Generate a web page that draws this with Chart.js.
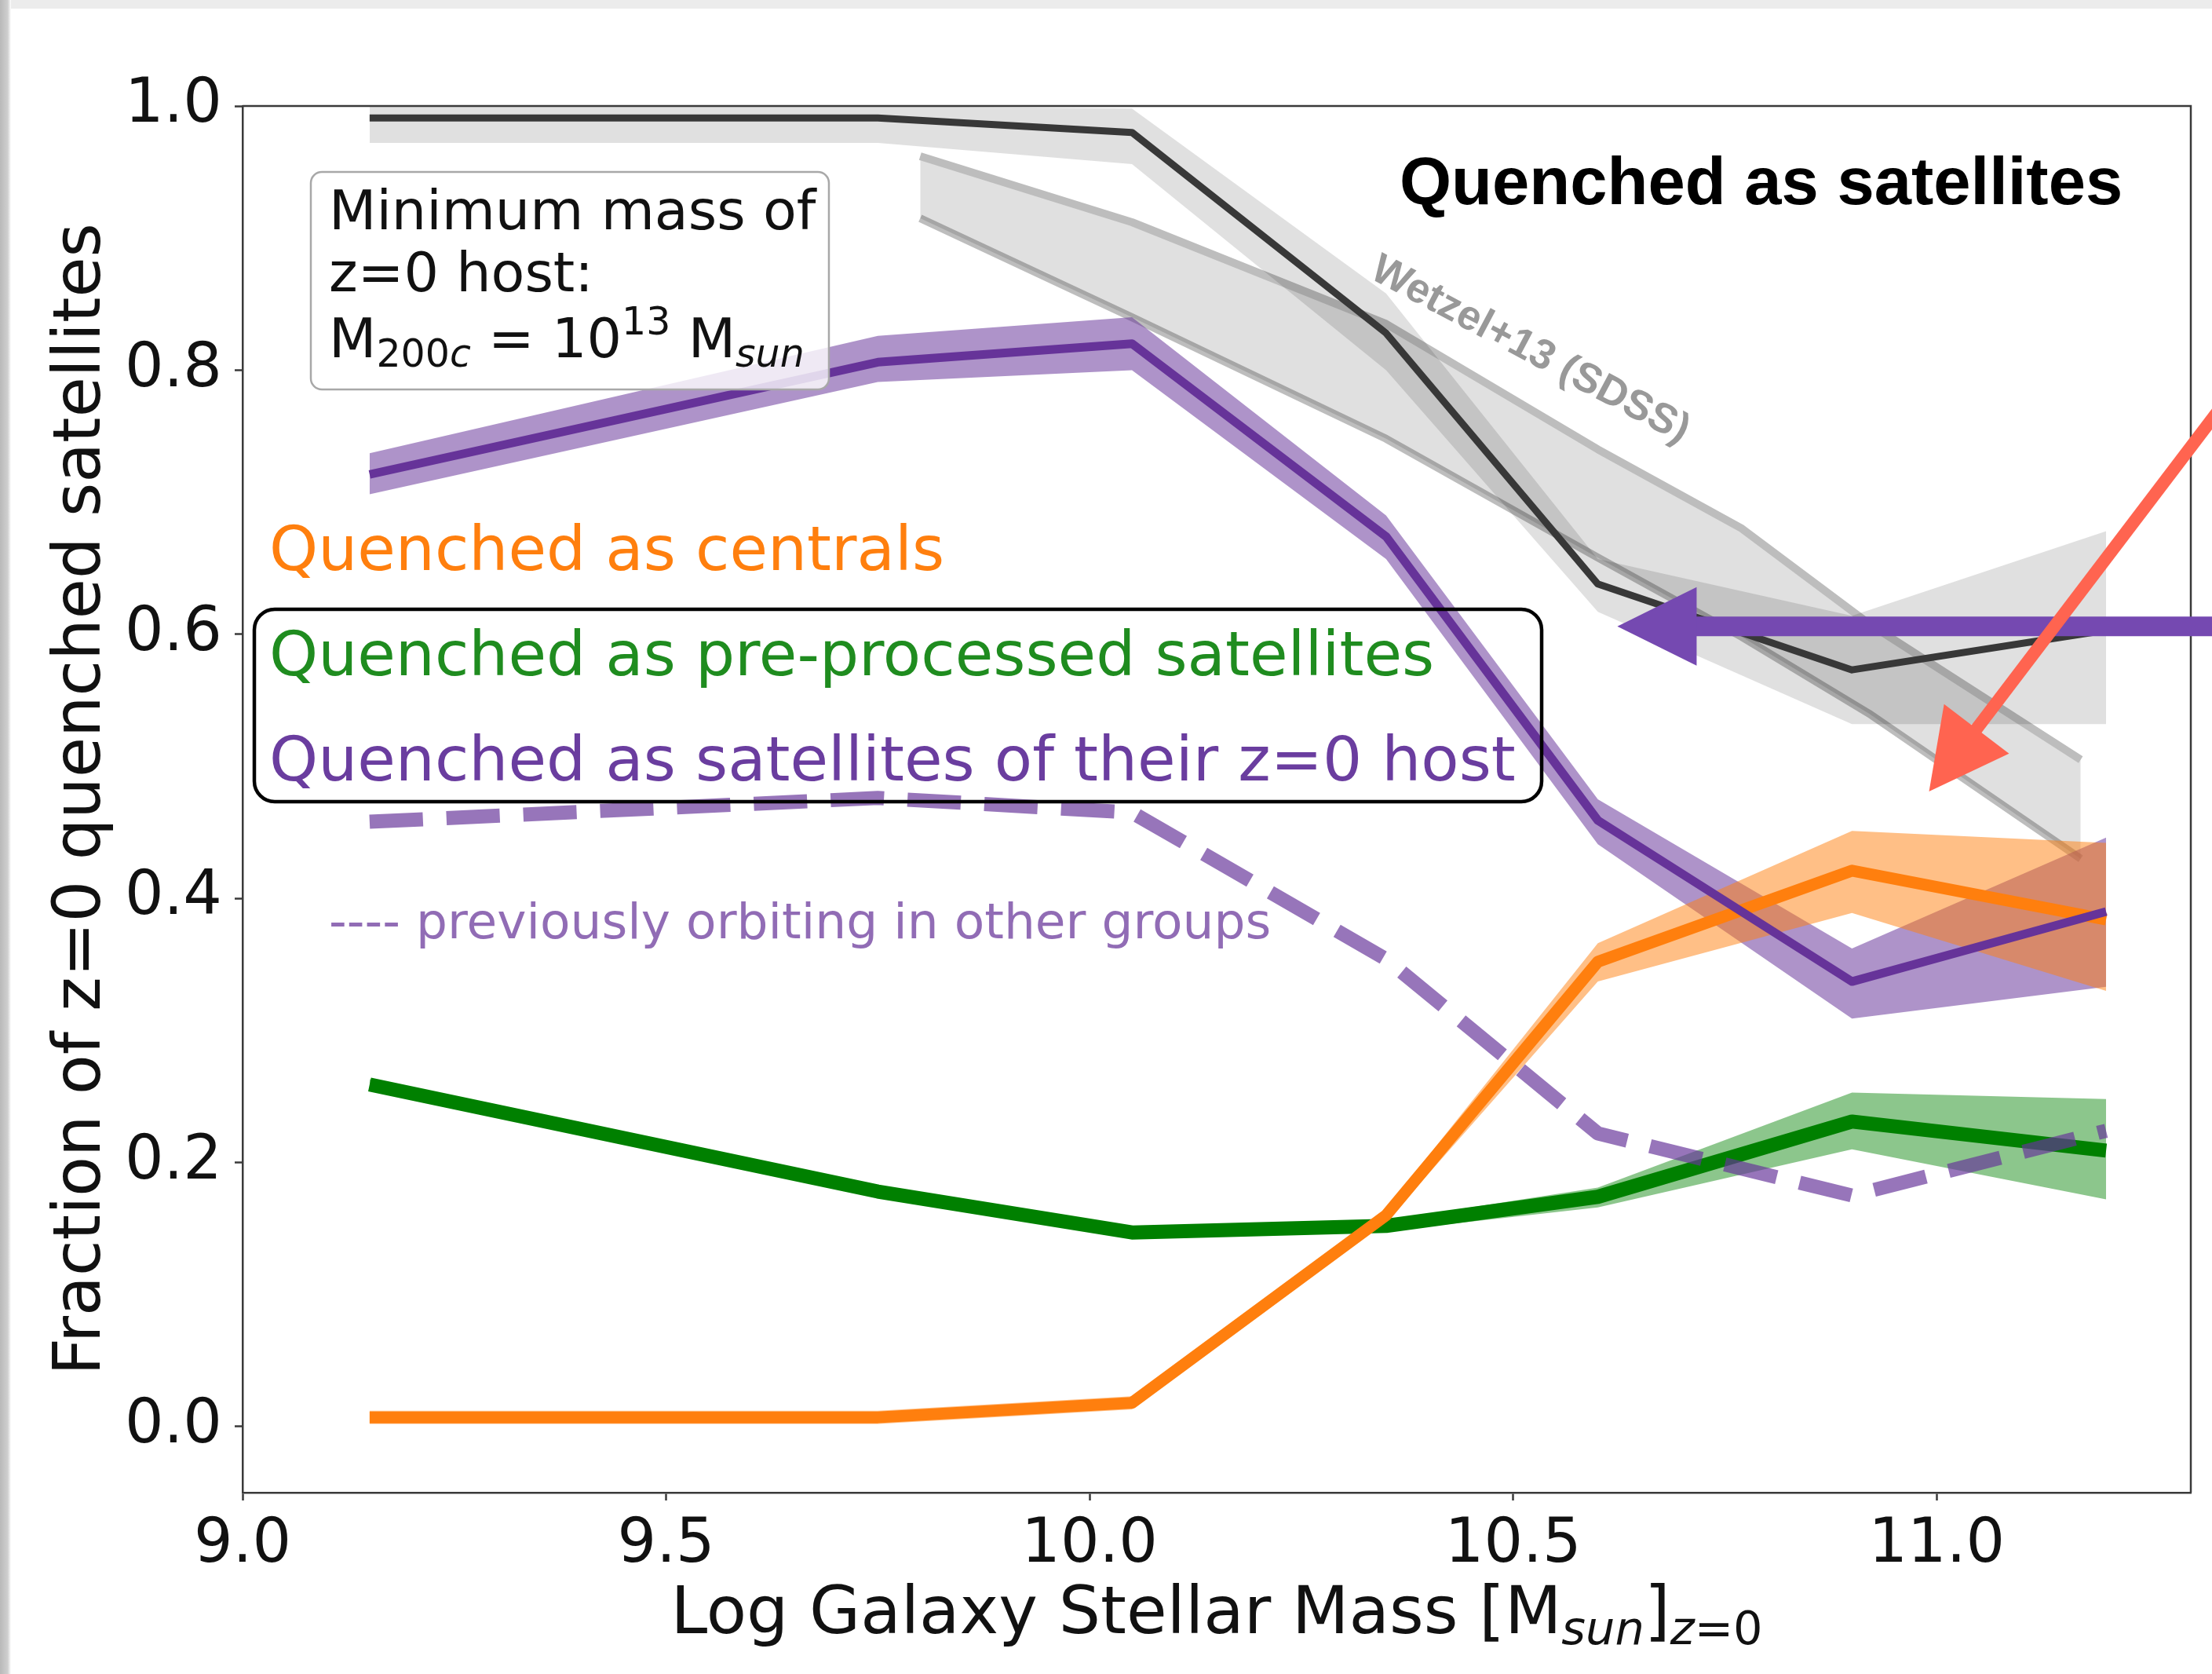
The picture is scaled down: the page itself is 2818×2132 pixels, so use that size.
<!DOCTYPE html>
<html>
<head>
<meta charset="utf-8">
<title>Quenched satellite fractions</title>
<script src="https://cdn.jsdelivr.net/npm/chart.js@4.4.1/dist/chart.umd.min.js"></script>
<style>
  html, body { margin: 0; padding: 0; background: #fff; }
  canvas { display: block; }
</style>
</head>
<body>
<canvas id="quenchChart" width="2818" height="2132"></canvas>
<script>
// Quenched-satellite fractions vs. z=0 stellar mass, split by where quenching happened

// Stellar-mass bins (log Msun) shared by the simulation curves
const massBins = [9.15, 9.75, 10.05, 10.35, 10.6, 10.9, 11.2];

// All quenched satellites (dark line) with its spread
const fracAll   = [0.991, 0.991, 0.980, 0.828, 0.638, 0.573, 0.603];
const fracAllLo = [0.972, 0.972, 0.956, 0.800, 0.617, 0.532, 0.532];
const fracAllHi = [1.000, 1.000, 0.998, 0.858, 0.657, 0.614, 0.678];

// Quenched as centrals
const fracCentral   = [0.007, 0.007, 0.018, 0.160, 0.352, 0.421, 0.384];
const fracCentralLo = [0.002, 0.002, 0.013, 0.155, 0.337, 0.389, 0.330];
const fracCentralHi = [0.012, 0.012, 0.023, 0.165, 0.366, 0.451, 0.442];

// Quenched as pre-processed satellites
const fracPreProc   = [0.259, 0.178, 0.147, 0.152, 0.174, 0.231, 0.209];
const fracPreProcLo = [0.255, 0.175, 0.144, 0.148, 0.166, 0.210, 0.172];
const fracPreProcHi = [0.263, 0.181, 0.150, 0.156, 0.181, 0.253, 0.248];

// Quenched as satellites of their z=0 host
const fracHostSat   = [0.721, 0.806, 0.820, 0.674, 0.459, 0.337, 0.390];
const fracHostSatLo = [0.706, 0.791, 0.800, 0.657, 0.441, 0.309, 0.333];
const fracHostSatHi = [0.737, 0.826, 0.840, 0.690, 0.475, 0.362, 0.446];

// ... of which previously orbiting in other groups (dashed)
const fracOtherGroups = [0.458, 0.476, 0.465, 0.354, 0.222, 0.175, 0.224];

// Wetzel+13 (SDSS) observational band
const wetzelMass = [9.8, 10.05, 10.35, 10.6, 10.77, 10.92, 11.17];
const wetzelHi   = [0.962, 0.912, 0.835, 0.740, 0.680, 0.608, 0.505];
const wetzelLo   = [0.915, 0.840, 0.748, 0.658, 0.598, 0.540, 0.430];

// Axis ticks
const massTicks = [9.0, 9.5, 10.0, 10.5, 11.0];
const fracTicks = [0.0, 0.2, 0.4, 0.6, 0.8, 1.0];

const SANS = "'DejaVu Sans', sans-serif";
const HELV = "'Liberation Sans', Arial, sans-serif";
const PURPLE = '#663399';

const pts = (xs, ys) => xs.map((x, i) => ({ x, y: ys[i] }));

// later datasets are drawn on top
const datasets = [];
function addLine(xs, ys, style) {
    datasets.push(Object.assign({
        data: pts(xs, ys),
        pointRadius: 0,
        tension: 0,
        fill: false,
        borderJoinStyle: 'round',
        borderCapStyle: 'butt',
        order: -datasets.length
    }, style));
    return datasets.length - 1;
}
function addBand(xs, lo, hi, fillColor, edgeColor, edgeWidth) {
    const edge = { borderColor: edgeColor || 'transparent', borderWidth: edgeWidth || 0 };
    const loIdx = addLine(xs, lo, edge);
    addLine(xs, hi, Object.assign({ fill: { target: loIdx }, backgroundColor: fillColor }, edge));
}

addBand(wetzelMass, wetzelLo, wetzelHi, 'rgba(0,0,0,0.12)', '#bdbdbd', 10);
addBand(massBins, fracAllLo, fracAllHi, 'rgba(0,0,0,0.12)');
addLine(massBins, fracAll, { borderColor: '#383838', borderWidth: 9 });
addBand(massBins, fracHostSatLo, fracHostSatHi, 'rgba(102,51,153,0.53)');
addBand(massBins, fracCentralLo, fracCentralHi, 'rgba(255,127,14,0.5)');
addBand(massBins, fracPreProcLo, fracPreProcHi, 'rgba(0,128,0,0.45)');
addLine(massBins, fracPreProc, { borderColor: '#008000', borderWidth: 18 });
addLine(massBins, fracCentral, { borderColor: '#ff7f0e', borderWidth: 15 });
addLine(massBins, fracHostSat, { borderColor: PURPLE, borderWidth: 11 });
addLine(massBins, fracOtherGroups, {
    borderColor: 'rgba(102,51,153,0.68)', borderWidth: 18, borderDash: [68, 30]
});

function runFont(r) {
    return (r.italic ? 'italic ' : '') + (r.bold ? 'bold ' : '') + r.size + 'px ' + (r.family || SANS);
}

// draws a row of text pieces (sub/superscripts via dy)
function drawRuns(ctx, runs, x, y, align) {
    let total = 0;
    runs.forEach(r => { ctx.font = runFont(r); r.w = ctx.measureText(r.text).width; total += r.w; });
    let cx = align === 'center' ? x - total / 2 : x;
    ctx.textAlign = 'left';
    ctx.textBaseline = 'alphabetic';
    runs.forEach(r => {
        ctx.font = runFont(r);
        ctx.fillText(r.text, cx, y + (r.dy || 0));
        cx += r.w;
    });
}

function roundRect(ctx, x, y, w, h, r) {
    ctx.beginPath();
    ctx.moveTo(x + r, y);
    ctx.arcTo(x + w, y, x + w, y + h, r);
    ctx.arcTo(x + w, y + h, x, y + h, r);
    ctx.arcTo(x, y + h, x, y, r);
    ctx.arcTo(x, y, x + w, y, r);
    ctx.closePath();
}

function drawArrow(ctx, tip, tail, shaftW, headLen, headHalf, color) {
    const dx = tail.x - tip.x, dy = tail.y - tip.y;
    const len = Math.hypot(dx, dy);
    const ux = dx / len, uy = dy / len;
    const bx = tip.x + ux * headLen, by = tip.y + uy * headLen;
    ctx.strokeStyle = color;
    ctx.fillStyle = color;
    ctx.lineWidth = shaftW;
    ctx.lineCap = 'butt';
    ctx.beginPath();
    ctx.moveTo(bx - ux * 2, by - uy * 2);
    ctx.lineTo(tail.x, tail.y);
    ctx.stroke();
    ctx.beginPath();
    ctx.moveTo(tip.x, tip.y);
    ctx.lineTo(bx - uy * headHalf, by + ux * headHalf);
    ctx.lineTo(bx + uy * headHalf, by - ux * headHalf);
    ctx.closePath();
    ctx.fill();
}

// white page with the grey window edge along top and left
const pageFrame = {
    id: 'pageFrame',
    beforeDraw(chart) {
        const { ctx, width, height } = chart;
        ctx.save();
        ctx.fillStyle = '#ffffff';
        ctx.fillRect(0, 0, width, height);
        ctx.fillStyle = '#ececec';
        ctx.fillRect(0, 0, width, 11);
        const g = ctx.createLinearGradient(0, 0, 14, 0);
        g.addColorStop(0, '#b9b9b9');
        g.addColorStop(0.7, '#cfcfcf');
        g.addColorStop(1, '#ffffff');
        ctx.fillStyle = g;
        ctx.fillRect(0, 0, 14, height);
        ctx.restore();
    }
};

const annotations = {
    id: 'annotations',
    afterDraw(chart) {
        const { ctx, chartArea: a, scales: { x, y } } = chart;
        const P = (xv, yv) => ({ x: x.getPixelForValue(xv), y: y.getPixelForValue(yv) });
        ctx.save();

        // top and right spines
        ctx.strokeStyle = '#3a3a3a';
        ctx.lineWidth = 2.5;
        ctx.beginPath();
        ctx.moveTo(a.left, a.top);
        ctx.lineTo(a.right, a.top);
        ctx.lineTo(a.right, a.bottom);
        ctx.stroke();

        // host-mass note
        roundRect(ctx, a.left + 87, a.top + 84, 660, 277, 14);
        ctx.fillStyle = 'rgba(255,255,255,0.8)';
        ctx.fill();
        ctx.strokeStyle = '#a8a8a8';
        ctx.lineWidth = 2.5;
        ctx.stroke();
        ctx.fillStyle = '#111';
        const bx = a.left + 110;
        drawRuns(ctx, [{ text: 'Minimum mass of', size: 70 }], bx, a.top + 157);
        drawRuns(ctx, [{ text: 'z=0 host:', size: 70 }], bx, a.top + 236);
        drawRuns(ctx, [
            { text: 'M', size: 70 },
            { text: '200', size: 49, dy: 12 },
            { text: 'c', size: 49, italic: true, dy: 12 },
            { text: ' = 10', size: 70 },
            { text: '13', size: 49, dy: -29 },
            { text: ' M', size: 70 },
            { text: 'sun', size: 49, italic: true, dy: 12 }
        ], bx, a.top + 320);

        // panel title
        ctx.fillStyle = '#000';
        drawRuns(ctx, [{ text: 'Quenched as satellites', size: 85, bold: true, family: HELV }],
            a.left + 1474, a.top + 125);

        // observational band label
        const w = P(10.52, 0.815);
        ctx.save();
        ctx.translate(w.x, w.y);
        ctx.rotate(28 * Math.PI / 180);
        ctx.fillStyle = '#999999';
        ctx.font = 'bold 53px ' + HELV;
        ctx.textAlign = 'center';
        ctx.textBaseline = 'middle';
        ctx.fillText('Wetzel+13 (SDSS)', 0, 0);
        ctx.restore();

        // channel labels
        const lx = a.left + 34;
        ctx.fillStyle = '#ff7f0e';
        drawRuns(ctx, [{ text: 'Quenched as centrals', size: 79 }], lx, a.top + 591);
        ctx.fillStyle = '#1f8c1f';
        drawRuns(ctx, [{ text: 'Quenched as pre-processed satellites', size: 79 }], lx, a.top + 725);
        ctx.fillStyle = '#6a3d9f';
        drawRuns(ctx, [{ text: 'Quenched as satellites of their z=0 host', size: 79 }], lx, a.top + 859);
        roundRect(ctx, a.left + 15, a.top + 641, 1640, 245, 26);
        ctx.strokeStyle = '#000';
        ctx.lineWidth = 4.5;
        ctx.stroke();

        ctx.fillStyle = 'rgba(102,51,153,0.72)';
        drawRuns(ctx, [{ text: '---- previously orbiting in other groups', size: 63 }],
            a.left + 110, a.top + 1060);

        // arrows pointing at the simulation curve and the observed band
        drawArrow(ctx, P(10.623, 0.606), { x: chart.width + 10, y: P(10.623, 0.606).y },
            25, 101, 50, '#7549b1');
        const rt = P(10.991, 0.481);
        drawArrow(ctx, rt, { x: rt.x + 0.605 * 640, y: rt.y - 0.796 * 640 },
            16, 100, 52, '#ff6450');

        // axis titles
        ctx.fillStyle = '#111';
        drawRuns(ctx, [
            { text: 'Log Galaxy Stellar Mass [M', size: 84 },
            { text: 'sun', size: 59, italic: true, dy: 14 },
            { text: ']', size: 84 },
            { text: 'z', size: 59, italic: true, dy: 14 },
            { text: '=0', size: 59, dy: 14 }
        ], (a.left + a.right) / 2, 2080, 'center');

        ctx.save();
        ctx.translate(127, (a.top + a.bottom) / 2);
        ctx.rotate(-Math.PI / 2);
        drawRuns(ctx, [{ text: 'Fraction of z=0 quenched satellites', size: 83 }], 0, 0, 'center');
        ctx.restore();

        ctx.restore();
    }
};

const axisGrid = { display: true, drawOnChartArea: false, tickLength: 10, tickColor: '#3a3a3a', tickWidth: 2.5 };
const axisBorder = { display: true, color: '#3a3a3a', width: 2.5 };

new Chart(document.getElementById('quenchChart'), {
    type: 'line',
    data: { datasets },
    options: {
        responsive: false,
        devicePixelRatio: 1,
        animation: false,
        layout: { padding: { left: 0, top: 135, right: 27, bottom: 0 } },
        plugins: {
            legend: { display: false },
            tooltip: { enabled: false },
            filler: { drawTime: 'beforeDatasetDraw' }
        },
        scales: {
            x: {
                type: 'linear',
                min: 9.0,
                max: 11.3,
                afterBuildTicks: s => { s.ticks = massTicks.map(v => ({ value: v })); },
                afterFit: s => { s.height = 231; },
                ticks: {
                    font: { family: SANS, size: 78 },
                    color: '#111',
                    padding: 11,
                    maxRotation: 0,
                    autoSkip: false,
                    callback: v => v.toFixed(1)
                },
                grid: axisGrid,
                border: axisBorder
            },
            y: {
                type: 'linear',
                min: -0.05,
                max: 1.0,
                afterBuildTicks: s => { s.ticks = fracTicks.map(v => ({ value: v })); },
                afterFit: s => { s.width = 309; },
                ticks: {
                    font: { family: SANS, size: 78 },
                    color: '#111',
                    padding: 16,
                    autoSkip: false,
                    callback: v => v.toFixed(1)
                },
                grid: axisGrid,
                border: axisBorder
            }
        }
    },
    plugins: [pageFrame, annotations]
});
</script>
</body>
</html>
